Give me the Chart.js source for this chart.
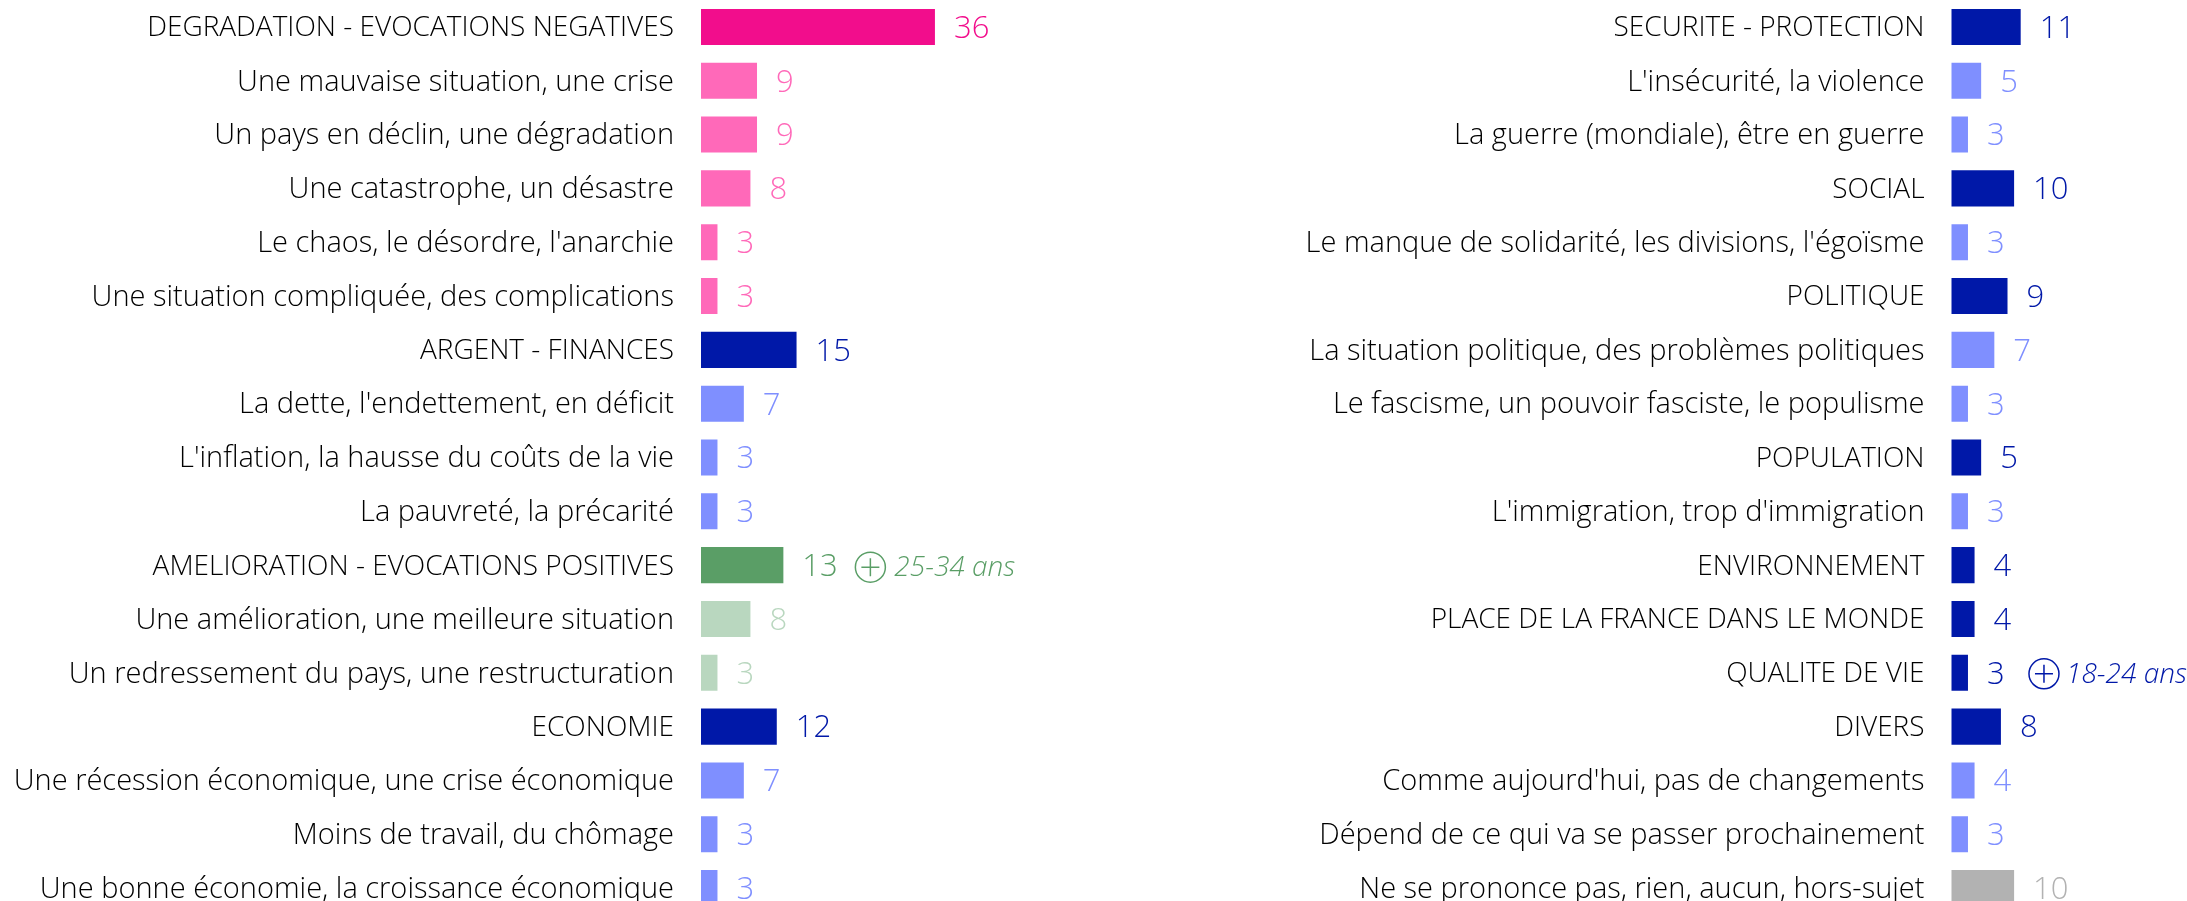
<!DOCTYPE html>
<html>
<head>
<meta charset="utf-8">
<style>
    html, body { margin: 0; padding: 0; width: 2187px; height: 901px; overflow: hidden; background: #fff; }
    canvas { position: absolute; top: 0; }
    #chartLeft { left: 0; }
    #chartRight { left: 1100px; }
</style>
<script src="https://cdn.jsdelivr.net/npm/chart.js@4"></script>
</head>
<body>
<canvas id="chartLeft" width="1100" height="915"></canvas>
<canvas id="chartRight" width="1087" height="915"></canvas>
<script>
const leftLabels = [
    "DEGRADATION - EVOCATIONS NEGATIVES",
    "Une mauvaise situation, une crise",
    "Un pays en déclin, une dégradation",
    "Une catastrophe, un désastre",
    "Le chaos, le désordre, l'anarchie",
    "Une situation compliquée, des complications",
    "ARGENT - FINANCES",
    "La dette, l'endettement, en déficit",
    "L'inflation, la hausse du coûts de la vie",
    "La pauvreté, la précarité",
    "AMELIORATION - EVOCATIONS POSITIVES",
    "Une amélioration, une meilleure situation",
    "Un redressement du pays, une restructuration",
    "ECONOMIE",
    "Une récession économique, une crise économique",
    "Moins de travail, du chômage",
    "Une bonne économie, la croissance économique",
];
const leftValues = [36, 9, 9, 8, 3, 3, 15, 7, 3, 3, 13, 8, 3, 12, 7, 3, 3];

const rightLabels = [
    "SECURITE - PROTECTION",
    "L'insécurité, la violence",
    "La guerre (mondiale), être en guerre",
    "SOCIAL",
    "Le manque de solidarité, les divisions, l'égoïsme",
    "POLITIQUE",
    "La situation politique, des problèmes politiques",
    "Le fascisme, un pouvoir fasciste, le populisme",
    "POPULATION",
    "L'immigration, trop d'immigration",
    "ENVIRONNEMENT",
    "PLACE DE LA FRANCE DANS LE MONDE",
    "QUALITE DE VIE",
    "DIVERS",
    "Comme aujourd'hui, pas de changements",
    "Dépend de ce qui va se passer prochainement",
    "Ne se prononce pas, rien, aucun, hors-sujet",
];
const rightValues = [11, 5, 3, 10, 3, 9, 7, 3, 5, 3, 4, 4, 3, 8, 4, 3, 10];

const PINK = "#f20d8c", LIGHT_PINK = "#ff69b9", NAVY = "#0018a8", BLUE = "#7f8fff";
const GREEN = "#5a9e66", LIGHT_GREEN = "#b9d7bf", GREY = "#b2b2b2";

const leftColors = [PINK, LIGHT_PINK, LIGHT_PINK, LIGHT_PINK, LIGHT_PINK, LIGHT_PINK,
    NAVY, BLUE, BLUE, BLUE, GREEN, LIGHT_GREEN, LIGHT_GREEN, NAVY, BLUE, BLUE, BLUE];
const rightColors = [NAVY, BLUE, BLUE, NAVY, BLUE, NAVY, BLUE, BLUE, NAVY, BLUE,
    NAVY, NAVY, NAVY, NAVY, BLUE, BLUE, GREY];

const FONT = '"Open Sans", sans-serif';

// values next to the bars, plus the "(+) age group" notes
const valueLabels = {
    id: "valueLabels",
    afterDatasetsDraw(chart, args, opts) {
        const { ctx } = chart;
        const bars = chart.getDatasetMeta(0).data;
        const dataset = chart.data.datasets[0];
        ctx.save();
        ctx.textBaseline = "middle";
        ctx.textAlign = "left";
        bars.forEach((bar, i) => {
            ctx.fillStyle = dataset.backgroundColor[i];
            ctx.font = `300 31px ${FONT}`;
            ctx.fillText(dataset.data[i], bar.x + 19, bar.y + 2);
        });
        if (opts.note) {
            const bar = bars[opts.note.row];
            const color = dataset.backgroundColor[opts.note.row];
            const cx = bar.x + opts.note.circleOffset;
            const cy = bar.y + opts.note.circleDrop;
            ctx.strokeStyle = color;
            ctx.lineWidth = 1.5;
            ctx.beginPath();
            ctx.arc(cx, cy, 15, 0, Math.PI * 2);
            ctx.moveTo(cx - 9, cy);
            ctx.lineTo(cx + 9, cy);
            ctx.moveTo(cx, cy - 9);
            ctx.lineTo(cx, cy + 9);
            ctx.stroke();
            ctx.fillStyle = color;
            ctx.font = `italic 300 28px ${FONT}`;
            ctx.fillText(opts.note.text, cx + opts.note.textOffset, cy + 1);
        }
        ctx.restore();
    },
};

function makeChart(id, labels, values, colors, axisWidth, xMax, paddingRight, note) {
    return new Chart(document.getElementById(id), {
        type: "bar",
        plugins: [valueLabels],
        data: {
            labels,
            datasets: [{
                data: values,
                backgroundColor: colors,
                barPercentage: 0.67,
                categoryPercentage: 1,
            }],
        },
        options: {
            indexAxis: "y",
            responsive: false,
            animation: false,
            layout: { padding: { left: 0, top: 0, bottom: 0, right: paddingRight } },
            plugins: {
                legend: { display: false },
                tooltip: { enabled: false },
                valueLabels: { note },
            },
            scales: {
                x: { display: false, min: 0.5, max: xMax },
                y: {
                    afterFit(scale) {
                        scale.width = axisWidth;
                        // tick padding would otherwise inset the rows top and bottom
                        scale.paddingTop = 0;
                        scale.paddingBottom = 0;
                    },
                    grid: { display: false, drawTicks: false },
                    border: { display: false },
                    ticks: {
                        autoSkip: false,
                        padding: 27,
                        labelOffset: 1.5,
                        color: "#000000",
                        // the heading rows in capitals run a bit narrower
                        font: (c) => {
                            const label = labels[c.index];
                            const isCaps = label === label.toUpperCase();
                            return { family: FONT, size: isCaps ? 28 : 29, weight: "300" };
                        },
                    },
                },
            },
        },
    });
}

makeChart("chartLeft", leftLabels, leftValues, leftColors, 701, 40, 138.7,
    { row: 10, text: "25-34 ans", circleOffset: 87, circleDrop: 2, textOffset: 24 });
makeChart("chartRight", rightLabels, rightValues, rightColors, 851.5, 30, 41.1,
    { row: 12, text: "18-24 ans", circleOffset: 76, circleDrop: 1, textOffset: 22 });
</script>
</body>
</html>
